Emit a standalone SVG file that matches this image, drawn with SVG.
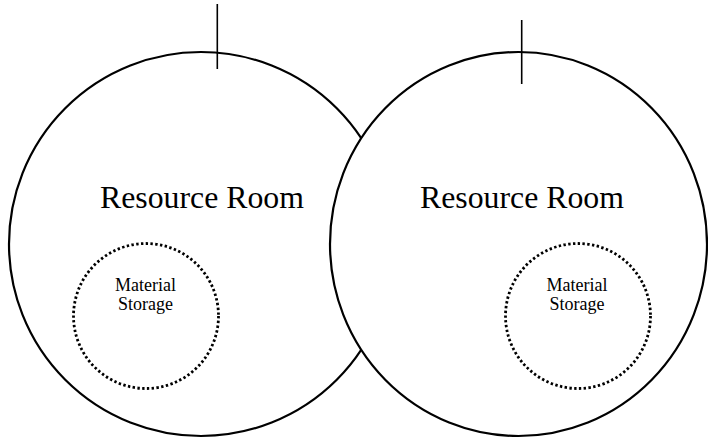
<svg xmlns="http://www.w3.org/2000/svg" width="708" height="438" viewBox="0 0 708 438">
<style>
.room{fill:#fff;stroke:#000;stroke-width:2.2}
.store{fill:none;stroke:#000;stroke-width:2.8;stroke-dasharray:2.4 2.4}
.tick{stroke:#000;stroke-width:1.6}
.big{font-family:"Liberation Serif","Times New Roman",serif;font-size:31px;fill:#000;text-anchor:middle}
.small{font-family:"Liberation Serif","Times New Roman",serif;font-size:18px;fill:#000;text-anchor:middle}
</style>
<rect width="708" height="438" fill="#fff"/>
<g id="room-left">
<circle class="room" cx="201" cy="244" r="192"/>
<text class="big" x="202" y="208" textLength="204" lengthAdjust="spacingAndGlyphs">Resource Room</text>
</g>
<g id="storage-left">
<circle class="store" cx="146" cy="316" r="72.5"/>
<text class="small" x="145.5" y="291">Material</text>
<text class="small" x="145.5" y="310">Storage</text>
</g>
<g id="room-right">
<ellipse class="room" cx="518.5" cy="244" rx="188.5" ry="192"/>
<text class="big" x="522" y="208" textLength="204" lengthAdjust="spacingAndGlyphs">Resource Room</text>
</g>
<g id="storage-right">
<circle class="store" cx="578" cy="316" r="72.5"/>
<text class="small" x="577" y="291">Material</text>
<text class="small" x="577" y="310">Storage</text>
</g>
<g id="connectors">
<line class="tick" x1="217.3" y1="4" x2="217.3" y2="69"/>
<line class="tick" x1="521.7" y1="20" x2="521.7" y2="84"/>
</g>
</svg>
